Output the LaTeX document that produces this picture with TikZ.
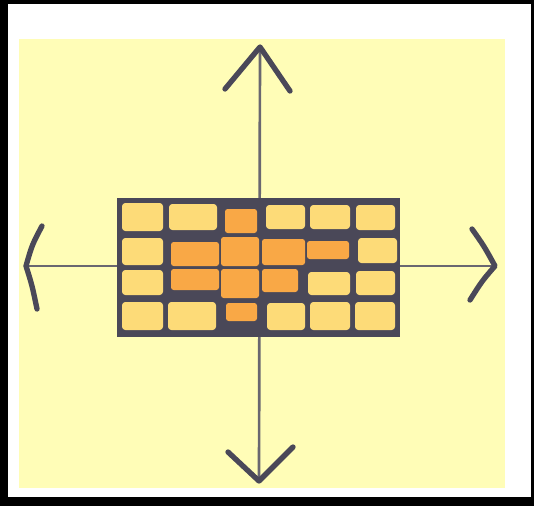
\documentclass[tikz,border=0pt]{standalone}
\begin{document}
\begin{tikzpicture}[x=0.75pt,y=-0.75pt]
\definecolor{bgyellow}{RGB}{255,253,183}
\definecolor{cellyellow}{RGB}{253,219,120}
\definecolor{cellorange}{RGB}{249,168,70}
\definecolor{ink}{RGB}{74,72,88}
\definecolor{axisink}{RGB}{105,103,112}
\tikzset{
  ycell/.style={fill=cellyellow,rounded corners=2.5pt},
  ocell/.style={fill=cellorange,rounded corners=2pt},
  axisline/.style={draw=axisink,line width=2pt},
  arrowhead/.style={draw=ink,line width=4pt,line cap=round,line join=round},
}
\useasboundingbox (0,0) rectangle (534,506);
% frame
\fill[black] (0,0) rectangle (534,506);
\fill[white] (8,4) rectangle (531,497);
\fill[bgyellow] (19,39) rectangle (505,488);
% axes coordinates
\coordinate (top) at (260,47);
\coordinate (bottom) at (259,481);
\coordinate (left) at (26,266);
\coordinate (right) at (495,266);
% axes
\draw[axisline] (top) -- (bottom);
\draw[axisline] (left) -- (right);
% grid background
\fill[ink] (117,198) rectangle (400,337);
% row 0
\fill[ycell] (122,203) rectangle (163,231);
\fill[ycell] (169,204) rectangle (217,230);
\fill[ocell] (225,209) rectangle (257,233);
\fill[ycell] (266,205) rectangle (305,229);
\fill[ycell] (310,205) rectangle (350,229);
\fill[ycell] (356,205) rectangle (395,230);
% row 1
\fill[ycell] (122,238) rectangle (163,265);
\fill[ocell] (171,242) rectangle (219,266);
\fill[ocell] (221,237) rectangle (259,266);
\fill[ocell] (262,239) rectangle (305,265);
\fill[ocell] (307,241) rectangle (349,259);
\fill[ycell] (358,238) rectangle (397,263);
% row 2
\fill[ycell] (122,270) rectangle (163,295);
\fill[ocell] (171,269) rectangle (219,290);
\fill[ocell] (221,269) rectangle (259,298);
\fill[ocell] (262,269) rectangle (298,292);
\fill[ycell] (308,272) rectangle (350,295);
\fill[ycell] (356,271) rectangle (395,295);
% row 3
\fill[ycell] (122,302) rectangle (163,330);
\fill[ycell] (168,302) rectangle (216,330);
\fill[ocell] (226,303) rectangle (257,321);
\fill[ycell] (267,303) rectangle (305,330);
\fill[ycell] (310,302) rectangle (350,330);
\fill[ycell] (355,302) rectangle (395,330);
% arrowheads
\draw[arrowhead] (225,89) -- (top) -- (290,91);
\draw[arrowhead] (228,452) -- (bottom) -- (293,447);
\draw[arrowhead] (42,226) .. controls (32,245) .. (left) .. controls (32,285) .. (37,309);
\draw[arrowhead] (472,229) .. controls (484,246) .. (right) .. controls (482,281) .. (470,300);
\end{tikzpicture}
\end{document}
